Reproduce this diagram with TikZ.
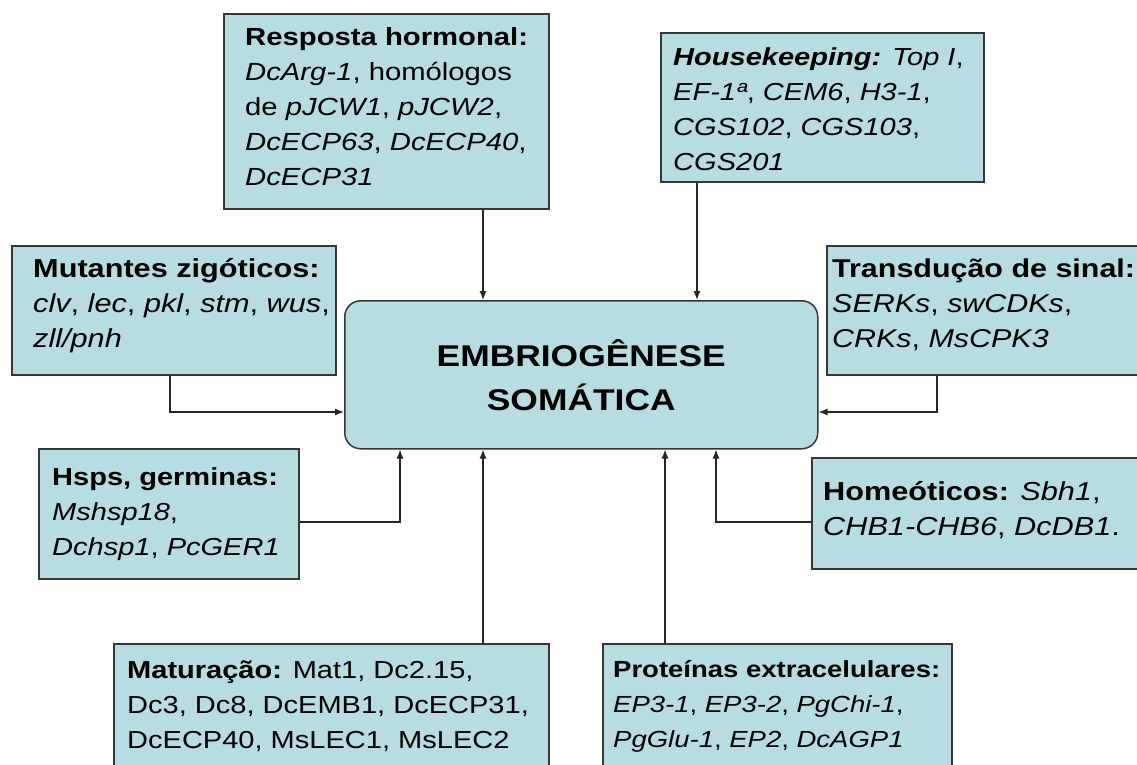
\documentclass[tikz,border=0pt]{standalone}
\usepackage{fontspec}
\setmainfont[FakeStretch=1.18]{Liberation Sans}
\usetikzlibrary{arrows.meta}

\definecolor{panelfill}{RGB}{183,221,226}
\definecolor{panelline}{RGB}{55,55,55}

\tikzset{
  panel/.style={draw=panelline, fill=panelfill, line width=1.5pt,
    anchor=north west, inner sep=0pt},
  % anchored at the baseline of the last line
  label/.style={anchor=base west, align=left, inner sep=0pt,
    font=\fontsize{#1}{35}\selectfont},
  label/.default=26,
  feed/.style={draw=black!85, line width=1.2pt,
    -{Latex[length=9pt,width=7pt]}}
}

\begin{document}
\begin{tikzpicture}[x=1pt, y=-1pt]
\useasboundingbox (0,0) rectangle (1137,764);
\clip (0,0) rectangle (1137,764);

% central process
\node[panel, rounded corners=16pt, minimum width=473pt, minimum height=148pt,
      align=center, font=\fontsize{30}{44}\selectfont\bfseries]
  (cen) at (344,300) {EMBRIOGÊNESE\\SOMÁTICA};

% surrounding gene groups
\node[panel, minimum width=325pt, minimum height=195pt] (resp) at (223,13) {};
\node[panel, minimum width=323pt, minimum height=149pt] (hk)   at (660,32) {};
\node[panel, minimum width=324pt, minimum height=129pt] (mut)  at (11,245) {};
\node[panel, minimum width=330pt, minimum height=129pt] (tr)   at (826,245) {};
\node[panel, minimum width=260pt, minimum height=130pt] (hs)   at (38,448) {};
\node[panel, minimum width=334pt, minimum height=111pt] (ho)   at (811,457) {};
\node[panel, minimum width=435pt, minimum height=140pt] (mat)  at (113,643) {};
\node[panel, minimum width=349pt, minimum height=140pt] (pr)   at (602,643) {};

\node[label=24.8] (respt) at (245,185) {\textbf{Resposta hormonal:}\\
  \textit{DcArg-1}, homólogos\\
  de \textit{pJCW1}, \textit{pJCW2},\\
  \textit{DcECP63}, \textit{DcECP40},\\
  \textit{DcECP31}};
\node[label=24.6] (hkt) at (673,170) {\textbf{\textit{Housekeeping:}} \textit{Top I},\\
  \textit{EF-1ª}, \textit{CEM6}, \textit{H3-1},\\
  \textit{CGS102}, \textit{CGS103},\\
  \textit{CGS201}};
\node[label] (mutt) at (33,347) {\textbf{Mutantes zigóticos:}\\
  \textit{clv}, \textit{lec}, \textit{pkl}, \textit{stm}, \textit{wus},\\
  \textit{zll/pnh}};
\node[label=25.8] (trt) at (832,347) {\textbf{Transdução de sinal:}\\
  \textit{SERKs}, \textit{swCDKs},\\
  \textit{CRKs}, \textit{MsCPK3}};
\node[label=24.6] (hst) at (52,555) {\textbf{Hsps, germinas:}\\
  \textit{Mshsp18},\\
  \textit{Dchsp1}, \textit{PcGER1}};
\node[label] (hot) at (823,535) {\textbf{Homeóticos:} \textit{Sbh1},\\
  \textit{CHB1-CHB6}, \textit{DcDB1}.};
\node[label=24.6] (matt) at (127,748) {\textbf{Maturação:} Mat1, Dc2.15,\\
  Dc3, Dc8, DcEMB1, DcECP31,\\
  DcECP40, MsLEC1, MsLEC2};
\node[label=23.3] (prt) at (613,747) {\textbf{Proteínas extracelulares:}\\
  \textit{EP3-1}, \textit{EP3-2}, \textit{PgChi-1},\\
  \textit{PgGlu-1}, \textit{EP2}, \textit{DcAGP1}};

% connector routing positions
\coordinate (c1) at (483,0);
\coordinate (c2) at (697,0);
\coordinate (c3) at (170,412);
\coordinate (c4) at (937,412);
\coordinate (c5) at (400,522);
\coordinate (c6) at (665,0);
\coordinate (c7) at (716,522);

\draw[feed] (resp.south -| c1) -- (cen.north -| c1);
\draw[feed] (hk.south -| c2) -- (cen.north -| c2);
\draw[feed] (mut.south -| c3) |- (cen.west |- c3);
\draw[feed] (tr.south -| c4) |- (cen.east |- c4);
\draw[feed] (hs.east |- c5) -| (cen.south -| c5);
\draw[feed] (mat.north -| c1) -- (cen.south -| c1);
\draw[feed] (pr.north -| c6) -- (cen.south -| c6);
\draw[feed] (ho.west |- c7) -| (cen.south -| c7);
\end{tikzpicture}
\end{document}
